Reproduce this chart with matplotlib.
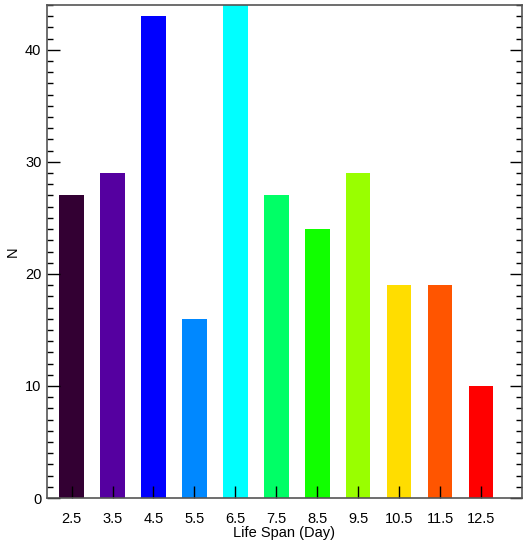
import matplotlib
matplotlib.use("Agg")
import matplotlib.pyplot as plt
from matplotlib.ticker import MultipleLocator

# life span histogram
span = [2.5, 3.5, 4.5, 5.5, 6.5, 7.5, 8.5, 9.5, 10.5, 11.5, 12.5]
counts = [27, 29, 43, 16, 44, 27, 24, 29, 19, 19, 10]
colors = ['#330033', '#5500a0', '#0000ff', '#0088ff', '#00ffff', '#00ff66',
          '#11ff00', '#99ff00', '#ffdd00', '#ff5500', '#ff0000']
tick_labels = ['2.5', '3.5', '4.5', '5.5', '6.5', '7.5', '8.5', '9.5', '10.5', '11.5', '12.5']

plt.rcParams['font.family'] = ['Liberation Sans', 'DejaVu Sans']

fig = plt.figure(figsize=(5.25, 5.48), dpi=100)
ax = fig.add_axes([0.0895, 0.0912, 0.9048, 0.8997])

ax.bar(span, counts, width=0.6, color=colors, zorder=1)

ax.set_xlim(1.9, 13.5)
ax.set_ylim(0, 44)
ax.set_xticks(span)
ax.set_xticklabels(tick_labels)
ax.yaxis.set_major_locator(MultipleLocator(10))
ax.yaxis.set_minor_locator(MultipleLocator(1))

ax.tick_params(axis='x', direction='in', length=9, width=1, color='black',
               labelsize=10.5, pad=10, top=False)
ax.tick_params(axis='y', which='major', direction='in', length=9, width=1,
               labelsize=10.5, right=True, pad=4)
ax.tick_params(axis='y', which='minor', direction='in', length=4, width=1,
               right=True)
for tl in ax.get_xticklines():
    tl.set_zorder(3)

for s in ax.spines.values():
    s.set_color('#555555')
    s.set_linewidth(1.2)
    s.set_zorder(4)

ax.set_xlabel('Life Span (Day)', fontsize=10.5, labelpad=0)
ax.set_ylabel('N', fontsize=10.5)
ax.yaxis.set_label_coords(-0.058, 0.5)

fig.savefig('out.png', dpi=100)
